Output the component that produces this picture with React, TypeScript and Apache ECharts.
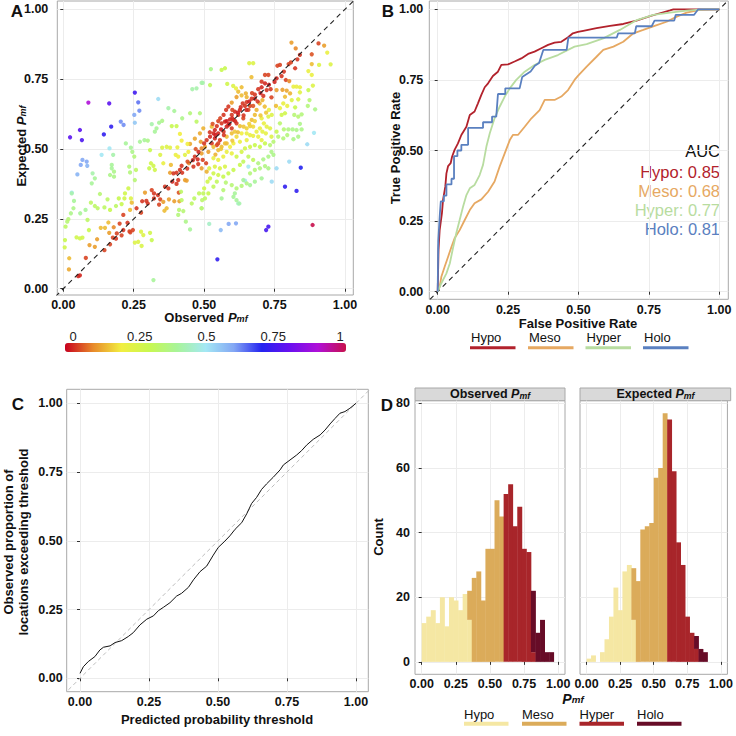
import React, { useEffect, useRef } from "react";
import * as echarts from "echarts";

const FONT = '"Liberation Sans", Arial, Helvetica, sans-serif';

// ---------- Panel A: observed vs expected P_mf, colour value ----------
const scatterPoints: number[][] = [
  [0.024,0.542,0.78],[0.059,0.568,0.78],[0.066,0.532,0.76],[0.089,0.666,0.9],[0.163,0.663,0.78],[0.254,0.702,0.74],[0.266,0.667,0.64],[0.27,0.637,0.62],[0.252,0.622,0.6],[0.254,0.594,0.55],[0.204,0.598,0.62],[0.214,0.586,0.62],[0.17,0.58,0.72],[0.144,0.552,0.72],[0.068,0.461,0.6],[0.083,0.455,0.6],[0.062,0.443,0.6],[0.085,0.44,0.58],[0.05,0.409,0.58],[0.03,0.344,0.5],[0.337,0.679,0.52],[0.164,0.502,0.5],[0.136,0.479,0.5],[0.547,0.105,0.72],[0.587,0.232,0.6],[0.613,0.234,0.6],[0.559,0.21,0.57],[0.72,0.21,0.75],[0.728,0.222,0.75],[0.787,0.365,0.72],[0.828,0.35,0.72],[0.843,0.433,0.7],[0.885,0.228,1.0],[0.802,0.455,0.52],[0.866,0.517,0.52],[0.89,0.558,0.5],[0.74,0.383,0.52],[0.757,0.431,0.52],[0.657,0.437,0.5],[0.645,0.387,0.5],[0.621,0.305,0.45],
  [0.005,0.148,0.28],[0.006,0.174,0.3],[0.008,0.222,0.33],[0.014,0.24,0.35],[0.018,0.249,0.35],[0.021,0.109,0.15],[0.02,0.069,0.13],[0.053,0.045,0.03],[0.059,0.048,0.03],[0.08,0.11,0.05],[0.093,0.156,0.12],[0.112,0.15,0.12],[0.12,0.177,0.12],[0.146,0.138,0.05],[0.166,0.159,0.05],[0.176,0.183,0.05],[0.19,0.198,0.05],[0.207,0.191,0.05],[0.187,0.179,0.04],[0.213,0.21,0.04],[0.228,0.236,0.04],[0.235,0.205,0.05],[0.247,0.21,0.05],[0.238,0.202,0.05],[0.163,0.2,0.12],[0.133,0.218,0.15],[0.148,0.218,0.15],[0.16,0.237,0.15],[0.179,0.22,0.1],[0.2,0.233,0.05],[0.213,0.264,0.05],[0.26,0.288,0.04],[0.28,0.313,0.04],[0.276,0.272,0.05],[0.29,0.344,0.12],[0.295,0.314,0.04],[0.3,0.305,0.04],[0.314,0.353,0.05],[0.322,0.341,0.04],[0.322,0.323,0.04],[0.336,0.335,0.04],[0.344,0.32,0.05],[0.34,0.301,0.05],[0.355,0.311,0.12],[0.359,0.279,0.15],[0.367,0.288,0.15],[0.375,0.32,0.12],[0.361,0.365,0.04],[0.373,0.359,0.04],[0.387,0.383,0.03],[0.402,0.375,0.04],[0.408,0.389,0.04],[0.41,0.344,0.06],[0.394,0.313,0.12],[0.412,0.313,0.12],[0.379,0.415,0.12],[0.391,0.413,0.04],[0.402,0.415,0.04],[0.414,0.425,0.04],[0.422,0.415,0.04],[0.432,0.389,0.12],[0.438,0.387,0.12],[0.446,0.449,0.1],[0.462,0.437,0.04],[0.477,0.463,0.03],[0.479,0.446,0.04],[0.467,0.473,0.04],[0.45,0.518,0.13],[0.467,0.537,0.13],[0.485,0.556,0.13],[0.488,0.526,0.12],[0.491,0.502,0.1],[0.497,0.574,0.14],[0.441,0.455,0.06],
  [0.027,0.27,0.38],[0.036,0.288,0.38],[0.03,0.341,0.42],[0.038,0.314,0.4],[0.06,0.27,0.4],[0.079,0.282,0.4],[0.086,0.246,0.33],[0.068,0.183,0.28],[0.047,0.184,0.28],[0.059,0.18,0.28],[0.091,0.21,0.3],[0.112,0.296,0.33],[0.098,0.308,0.33],[0.122,0.288,0.33],[0.13,0.339,0.35],[0.146,0.291,0.33],[0.157,0.32,0.33],[0.166,0.282,0.3],[0.187,0.296,0.33],[0.197,0.323,0.3],[0.207,0.303,0.3],[0.219,0.341,0.28],[0.231,0.359,0.28],[0.24,0.323,0.25],[0.217,0.323,0.28],[0.101,0.377,0.4],[0.104,0.413,0.42],[0.112,0.395,0.4],[0.166,0.407,0.38],[0.172,0.443,0.4],[0.172,0.431,0.4],[0.18,0.419,0.38],[0.18,0.401,0.38],[0.177,0.479,0.42],[0.222,0.52,0.4],[0.24,0.505,0.4],[0.245,0.49,0.38],[0.237,0.416,0.36],[0.234,0.437,0.36],[0.252,0.473,0.36],[0.258,0.425,0.33],[0.254,0.389,0.35],[0.272,0.526,0.4],[0.288,0.532,0.4],[0.3,0.53,0.38],[0.308,0.496,0.3],[0.314,0.589,0.42],[0.325,0.562,0.4],[0.331,0.574,0.4],[0.34,0.594,0.4],[0.351,0.601,0.38],[0.385,0.582,0.3],[0.402,0.582,0.3],[0.373,0.646,0.42],[0.394,0.636,0.4],[0.422,0.61,0.38],[0.45,0.628,0.36],[0.473,0.598,0.33],[0.485,0.628,0.36],[0.458,0.714,0.42],[0.473,0.717,0.42],[0.491,0.737,0.42],[0.311,0.449,0.28],[0.32,0.44,0.28],[0.305,0.431,0.3],[0.325,0.425,0.28],[0.344,0.479,0.25],[0.351,0.505,0.25],[0.367,0.508,0.25],[0.379,0.505,0.24],[0.355,0.449,0.22],[0.382,0.443,0.15],[0.399,0.479,0.22],[0.408,0.473,0.2],[0.405,0.506,0.22],[0.414,0.554,0.2],[0.42,0.53,0.2],[0.441,0.518,0.2],[0.444,0.49,0.2],[0.432,0.479,0.24],[0.418,0.347,0.33],[0.42,0.317,0.33],[0.411,0.282,0.35],[0.426,0.278,0.35],[0.408,0.264,0.36],[0.435,0.24,0.38],[0.45,0.212,0.4],[0.465,0.323,0.33],[0.456,0.305,0.33],[0.482,0.341,0.32],[0.491,0.288,0.36],[0.493,0.317,0.34],[0.237,0.282,0.15],[0.243,0.308,0.15],[0.254,0.165,0.25],[0.276,0.204,0.25],[0.284,0.192,0.25],[0.278,0.153,0.26],[0.308,0.2,0.28],[0.314,0.174,0.3],[0.32,0.031,0.4],[0.266,0.168,0.25],
  [0.81,0.881,0.12],[0.825,0.86,0.1],[0.906,0.878,0.05],[0.926,0.87,0.12],[0.937,0.845,0.22],[0.949,0.803,0.25],[0.908,0.801,0.25],[0.882,0.804,0.15],[0.882,0.839,0.06],[0.87,0.779,0.22],[0.882,0.765,0.22],[0.84,0.837,0.04],[0.831,0.821,0.04],[0.823,0.789,0.04],[0.8,0.804,0.05],[0.808,0.81,0.05],[0.769,0.801,0.05],[0.76,0.798,0.05],[0.783,0.777,0.04],[0.775,0.761,0.04],[0.79,0.747,0.05],[0.802,0.743,0.1],[0.757,0.753,0.03],[0.728,0.765,0.05],[0.716,0.765,0.05],[0.704,0.741,0.04],[0.668,0.757,0.15],[0.66,0.807,0.25],[0.674,0.807,0.25],[0.574,0.789,0.3],[0.562,0.783,0.3],[0.524,0.786,0.38],[0.495,0.737,0.42],[0.521,0.729,0.32],[0.582,0.733,0.28],[0.603,0.726,0.25],[0.613,0.717,0.22],[0.633,0.721,0.15],[0.621,0.705,0.15],[0.648,0.699,0.14],[0.736,0.714,0.04],[0.739,0.685,0.05],[0.757,0.711,0.12],[0.778,0.712,0.12],[0.793,0.709,0.13],[0.805,0.699,0.14],[0.817,0.723,0.22],[0.828,0.723,0.22],[0.84,0.721,0.22],[0.84,0.703,0.24],[0.87,0.711,0.3],[0.874,0.675,0.35],[0.894,0.642,0.38],[0.868,0.654,0.36],[0.834,0.678,0.25],[0.823,0.649,0.3],[0.811,0.675,0.25],[0.787,0.687,0.15],[0.781,0.663,0.22],[0.795,0.654,0.22],[0.769,0.646,0.22],[0.755,0.654,0.15],[0.82,0.622,0.35],[0.834,0.616,0.35],[0.846,0.624,0.36],[0.814,0.57,0.38],[0.828,0.568,0.38],[0.846,0.57,0.38],[0.799,0.57,0.37],[0.783,0.57,0.35],[0.769,0.592,0.34],[0.775,0.622,0.28],[0.787,0.628,0.28],[0.74,0.622,0.25],[0.728,0.616,0.25],[0.73,0.64,0.22],[0.715,0.652,0.15],[0.707,0.675,0.14],[0.697,0.663,0.14],[0.68,0.622,0.15],[0.704,0.61,0.22],[0.712,0.592,0.22],[0.722,0.58,0.23],[0.734,0.574,0.24],[0.698,0.574,0.22],[0.686,0.562,0.22],[0.707,0.562,0.23],[0.674,0.58,0.18],[0.663,0.582,0.17],[0.651,0.574,0.17],[0.669,0.604,0.15],[0.686,0.64,0.14],[0.657,0.64,0.05],[0.645,0.654,0.04],[0.637,0.663,0.04],[0.651,0.668,0.04],[0.663,0.654,0.05],[0.674,0.654,0.06],[0.669,0.68,0.04],[0.68,0.695,0.04],[0.692,0.714,0.04],[0.704,0.721,0.03],[0.716,0.735,0.03],[0.722,0.711,0.04],[0.627,0.64,0.03],[0.621,0.622,0.04],[0.609,0.634,0.03],[0.598,0.622,0.04],[0.592,0.606,0.03],[0.604,0.604,0.03],[0.615,0.592,0.04],[0.627,0.582,0.15],[0.639,0.61,0.05],[0.633,0.692,0.15],[0.651,0.686,0.14],[0.615,0.686,0.12],[0.598,0.666,0.12],[0.586,0.652,0.04],[0.578,0.64,0.04],[0.569,0.622,0.04],[0.557,0.61,0.05],[0.574,0.598,0.03],[0.586,0.586,0.03],[0.598,0.574,0.04],[0.58,0.58,0.03],[0.562,0.592,0.04],[0.545,0.582,0.04],[0.538,0.568,0.03],[0.527,0.58,0.15],[0.533,0.556,0.03],[0.55,0.556,0.03],[0.569,0.562,0.04],[0.521,0.544,0.03],[0.538,0.538,0.03],[0.556,0.532,0.04],[0.527,0.52,0.04],[0.545,0.514,0.05],[0.509,0.532,0.04],[0.503,0.508,0.12],[0.515,0.49,0.12],[0.491,0.484,0.12],[0.495,0.461,0.05],[0.507,0.449,0.05],[0.491,0.431,0.12],[0.509,0.419,0.14],[0.533,0.508,0.15],[0.55,0.496,0.15],[0.562,0.508,0.15],[0.574,0.52,0.15],[0.58,0.544,0.15],[0.598,0.556,0.15],[0.609,0.562,0.16],[0.615,0.544,0.18],[0.633,0.556,0.2],[0.651,0.556,0.22],[0.663,0.55,0.22],[0.674,0.547,0.22],[0.692,0.544,0.22],[0.704,0.532,0.23],[0.719,0.556,0.23],[0.739,0.544,0.25],[0.757,0.562,0.3],[0.651,0.532,0.22],[0.627,0.526,0.22],[0.604,0.52,0.2],[0.592,0.508,0.2],[0.58,0.49,0.22],[0.598,0.484,0.22],[0.568,0.473,0.22],[0.55,0.461,0.22],[0.533,0.467,0.22],[0.538,0.437,0.25],[0.518,0.431,0.25],[0.556,0.431,0.25],[0.574,0.437,0.26],[0.615,0.473,0.28],[0.633,0.49,0.27],[0.645,0.502,0.28],[0.663,0.508,0.28],[0.68,0.514,0.3],[0.698,0.508,0.3],[0.716,0.52,0.3],[0.734,0.514,0.35],[0.746,0.526,0.35],[0.763,0.544,0.35],[0.781,0.538,0.36],[0.795,0.55,0.36],[0.817,0.535,0.38],[0.834,0.544,0.38],[0.84,0.59,0.38],[0.739,0.49,0.38],[0.746,0.479,0.38],[0.728,0.473,0.38],[0.71,0.463,0.38],[0.692,0.449,0.37],[0.674,0.461,0.32],[0.657,0.473,0.32],[0.639,0.455,0.32],[0.627,0.443,0.3],[0.604,0.425,0.3],[0.586,0.413,0.3],[0.568,0.401,0.3],[0.55,0.407,0.28],[0.533,0.413,0.28],[0.521,0.395,0.28],[0.577,0.38,0.35],[0.598,0.371,0.35],[0.615,0.359,0.36],[0.633,0.368,0.36],[0.651,0.377,0.37],[0.663,0.413,0.36],[0.68,0.425,0.36],[0.698,0.431,0.37],[0.716,0.439,0.37],[0.728,0.431,0.38],[0.704,0.395,0.4],[0.68,0.383,0.4],[0.663,0.371,0.4],[0.639,0.389,0.4],[0.609,0.341,0.4],[0.615,0.317,0.4],[0.625,0.305,0.42],[0.604,0.329,0.4],[0.568,0.353,0.35],[0.512,0.383,0.28],[0.5,0.359,0.28],[0.515,0.341,0.3],[0.497,0.341,0.32],[0.491,0.288,0.35],[0.503,0.323,0.33],[0.533,0.365,0.32],[0.545,0.383,0.32],[0.562,0.323,0.4],[0.518,0.232,0.45],[0.886,0.727,0.25],
  [0.54,0.55,0.02],[0.56,0.57,0.02],[0.58,0.6,0.02],[0.6,0.61,0.03],[0.62,0.63,0.02],[0.64,0.62,0.04],[0.63,0.65,0.03],[0.65,0.64,0.03],[0.66,0.67,0.02],[0.68,0.68,0.03],[0.7,0.7,0.02],[0.69,0.67,0.04],[0.71,0.69,0.04],[0.73,0.73,0.02],[0.75,0.74,0.03],[0.55,0.52,0.05],[0.57,0.55,0.04],[0.59,0.59,0.02],[0.61,0.6,0.03],[0.52,0.56,0.04],[0.5,0.52,0.04],[0.48,0.49,0.03],[0.46,0.46,0.03],[0.44,0.43,0.04],[0.42,0.44,0.04],[0.47,0.5,0.06],[0.53,0.59,0.06],[0.55,0.6,0.05],[0.6,0.64,0.05],[0.67,0.7,0.05],[0.62,0.56,0.15],[0.64,0.58,0.16],[0.66,0.59,0.17],[0.68,0.6,0.17],[0.7,0.62,0.16],[0.72,0.63,0.16],[0.6,0.53,0.16],[0.58,0.52,0.15],[0.56,0.5,0.16],[0.54,0.48,0.14],
];
const colorbarTicks = [0, 0.25, 0.5, 0.75, 1];
const rainbow = ["#c8001e", "#e88a2a", "#f2ee40", "#c8f850", "#a8f49a", "#a4e8f4", "#84a8f4", "#2424f0", "#6a10f0", "#b010d8", "#c8104c"];

// ---------- Panel B: ROC curves ----------
const rocCategories = ["Hypo", "Meso", "Hyper", "Holo"];
const aucValues = ["0.85", "0.68", "0.77", "0.81"];
const rocHypo = [[0,0],[0.003,0.15],[0.007,0.218],[0.015,0.277],[0.019,0.325],[0.027,0.372],[0.031,0.419],[0.037,0.445],[0.046,0.455],[0.051,0.478],[0.06,0.502],[0.072,0.525],[0.084,0.555],[0.102,0.584],[0.114,0.626],[0.131,0.638],[0.143,0.667],[0.155,0.697],[0.167,0.724],[0.179,0.738],[0.196,0.764],[0.214,0.779],[0.226,0.803],[0.25,0.805],[0.273,0.815],[0.297,0.826],[0.321,0.842],[0.344,0.85],[0.368,0.862],[0.392,0.874],[0.415,0.882],[0.439,0.885],[0.463,0.901],[0.48,0.915],[0.498,0.92],[0.517,0.924],[0.564,0.933],[0.612,0.941],[0.659,0.948],[0.706,0.96],[0.754,0.976],[0.789,0.986],[0.825,0.996],[0.837,1],[1,1]];
const rocMeso = [[0,0],[0.007,0.018],[0.013,0.053],[0.025,0.089],[0.037,0.124],[0.049,0.159],[0.06,0.189],[0.078,0.218],[0.096,0.254],[0.114,0.289],[0.131,0.313],[0.155,0.327],[0.179,0.354],[0.202,0.39],[0.22,0.443],[0.238,0.49],[0.256,0.537],[0.267,0.555],[0.285,0.555],[0.309,0.584],[0.333,0.614],[0.362,0.643],[0.38,0.679],[0.415,0.679],[0.439,0.691],[0.463,0.714],[0.486,0.75],[0.498,0.764],[0.529,0.797],[0.564,0.832],[0.588,0.856],[0.624,0.868],[0.659,0.885],[0.695,0.915],[0.73,0.927],[0.778,0.944],[0.813,0.956],[0.849,0.974],[0.884,0.988],[0.931,0.998],[1,1]];
const rocHyper = [[0,0],[0.013,0.03],[0.031,0.065],[0.043,0.1],[0.054,0.153],[0.066,0.207],[0.078,0.254],[0.09,0.301],[0.102,0.342],[0.114,0.366],[0.131,0.378],[0.149,0.413],[0.161,0.449],[0.173,0.514],[0.185,0.561],[0.202,0.614],[0.22,0.655],[0.238,0.691],[0.256,0.72],[0.279,0.75],[0.309,0.779],[0.344,0.803],[0.38,0.821],[0.427,0.838],[0.486,0.868],[0.529,0.877],[0.588,0.897],[0.647,0.927],[0.707,0.962],[0.766,0.98],[0.825,0.988],[0.884,0.995],[0.943,1],[1,1]];
const rocHolo = [[0,0],[0.002,0.18],[0.008,0.28],[0.011,0.32],[0.022,0.32],[0.022,0.34],[0.031,0.34],[0.031,0.38],[0.049,0.38],[0.049,0.4],[0.058,0.4],[0.058,0.48],[0.07,0.48],[0.07,0.5],[0.084,0.5],[0.084,0.52],[0.108,0.52],[0.108,0.58],[0.161,0.58],[0.161,0.6],[0.193,0.6],[0.193,0.62],[0.208,0.62],[0.214,0.7],[0.24,0.7],[0.24,0.72],[0.291,0.72],[0.3,0.76],[0.33,0.78],[0.345,0.8],[0.36,0.81],[0.375,0.856],[0.458,0.856],[0.464,0.9],[0.636,0.9],[0.641,0.915],[0.7,0.915],[0.705,0.94],[0.76,0.94],[0.77,0.96],[0.84,0.96],[0.845,0.98],[0.91,0.98],[0.925,1],[1,1]];

// ---------- Panel C: calibration curve ----------
const calibration = [[0,0.018],[0.012,0.042],[0.03,0.061],[0.054,0.079],[0.072,0.103],[0.085,0.113],[0.109,0.118],[0.127,0.13],[0.151,0.137],[0.175,0.152],[0.193,0.166],[0.217,0.194],[0.242,0.215],[0.266,0.227],[0.284,0.246],[0.302,0.258],[0.326,0.275],[0.35,0.299],[0.368,0.309],[0.393,0.331],[0.411,0.358],[0.435,0.388],[0.459,0.408],[0.483,0.448],[0.501,0.476],[0.525,0.499],[0.543,0.518],[0.562,0.542],[0.586,0.566],[0.604,0.598],[0.622,0.636],[0.64,0.658],[0.658,0.687],[0.676,0.707],[0.7,0.731],[0.725,0.758],[0.737,0.776],[0.761,0.794],[0.785,0.812],[0.803,0.828],[0.821,0.848],[0.845,0.869],[0.87,0.885],[0.888,0.903],[0.906,0.925],[0.924,0.945],[0.942,0.964],[0.96,0.97],[0.978,0.982],[1,1]];

// ---------- Panel D: histograms (counts per bin, stacked by class) ----------
const binWidth = 0.03335;
const obsHypo  = [12,14,16,12,20,11,20,19,16,21,13,0,0,0,0,0,0,0,0,0,0,0,0,0,0,0,0,0,0];
const obsMeso  = [0,0,0,0,0,0,0,0,0,0,9,26,28,19,35,35,50,45,0,0,0,0,0,0,0,0,0,0,0];
const obsHyper = [0,0,0,0,0,0,0,0,0,0,0,0,0,0,0,0,0,0,52,55,42,48,35,34,3,0,0,0,0];
const obsHolo  = [0,0,0,0,0,0,0,0,0,0,0,0,0,0,0,0,0,0,0,0,0,0,0,0,19,9,13,3,3];
const expHypo  = [1,2,0,3,7,14,23,16,28,30,13,0,0,0,0,0,0,0,0,0,0,0,0,0,0,0,0];
const expMeso  = [0,0,0,0,0,0,0,0,0,0,16,25,41,42,43,57,60,77,0,0,0,0,0,0,0,0,0];
const expHyper = [0,0,0,0,0,0,0,0,0,0,0,0,0,0,0,0,0,0,75,59,37,30,14,9,4,0,0];
const expHolo  = [0,0,0,0,0,0,0,0,0,0,0,0,0,0,0,0,0,0,0,0,0,0,0,0,4,4,3];
const probTicks = [0, 0.25, 0.5, 0.75, 1];
const countTicks = [0, 20, 40, 60, 80];

const rocColors = ["#b2222c", "#e6a862", "#b8dca0", "#5a80c0"];
const histColors = ["#f5e7a3", "#dbab5a", "#a8252a", "#670c27"];

const fmt2 = (v: number) => v.toFixed(2);

function vAxis(gridIndex: number, min: number, max: number, ticks: number[], margin: number, showLabels = true, fmt: any = fmt2, showTicks = true) {
  return {
    type: "value", gridIndex, min, max,
    axisLine: { show: false },
    axisTick: { show: showTicks, length: 3, customValues: ticks, lineStyle: { color: "#333", width: 1 } },
    axisLabel: { show: showLabels, customValues: ticks, margin, formatter: fmt, color: "#111", fontWeight: "bold", fontSize: 12.5, fontFamily: FONT },
    splitLine: { show: true, lineStyle: { color: "#ececec", width: 1 } },
  };
}

const pmfRich = (size: number) => ({
  b: { fontWeight: "bold", fontSize: size, fontFamily: FONT, lineHeight: 12, verticalAlign: "middle", fill: "#111" },
  i: { fontWeight: "bold", fontStyle: "italic", fontSize: size, fontFamily: FONT, lineHeight: 12, verticalAlign: "middle", fill: "#111" },
  s: { fontWeight: "bold", fontStyle: "italic", fontSize: size * 0.7, fontFamily: FONT, lineHeight: 4, verticalAlign: "bottom", fill: "#111" },
});

function txt(x: number, y: number, text: string, extra: any = {}, rotation = 0) {
  return {
    type: "text", x, y, rotation, silent: true,
    style: { text, fill: "#111", fontFamily: FONT, fontSize: 13, fontWeight: "bold", align: "center", verticalAlign: "middle", ...extra },
  };
}

function histSeries(xAxisIndex: number, counts: number[][]) {
  const n = counts[0].length;
  const base = new Array(n).fill(0);
  return counts.map((arr, k) => {
    const data: number[][] = [];
    arr.forEach((v, i) => {
      if (v > 0) {
        const x0 = i * binWidth;
        data.push([x0, x0 + binWidth, base[i], base[i] + v]);
        base[i] += v;
      }
    });
    const color = histColors[k];
    return {
      type: "custom", xAxisIndex, yAxisIndex: xAxisIndex, data, silent: true,
      renderItem: (params: any, api: any) => {
        const a = api.coord([api.value(0), api.value(3)]);
        const b = api.coord([api.value(1), api.value(2)]);
        return { type: "rect", shape: { x: a[0], y: a[1], width: b[0] - a[0] + 0.4, height: b[1] - a[1] }, style: { fill: color } };
      },
    };
  });
}

export default function App() {
  const ref = useRef<HTMLDivElement>(null);
  useEffect(() => {
    if (!ref.current) return;
    const chart = echarts.init(ref.current, null, { renderer: "svg" });
    const gridStyle = { show: true, borderColor: "#a8a8a8", borderWidth: 1, backgroundColor: "transparent" };
    const rocSeries = [rocHypo, rocMeso, rocHyper, rocHolo].map((d, i) => ({
      type: "line", xAxisIndex: 2, yAxisIndex: 2, data: d, showSymbol: false, silent: true,
      lineStyle: { color: rocColors[i], width: 1.8 }, z: 3,
    }));
    const graphic: any[] = [
      txt(17, 11, "A", { fontSize: 17 }),
      txt(388, 11, "B", { fontSize: 17 }),
      txt(18, 404, "C", { fontSize: 17 }),
      txt(387, 405, "D", { fontSize: 17 }),
      txt(206, 317.5, "{b|Observed }{i|P}{s|mf}", { rich: pmfRich(13) }),
      txt(21, 146, "{b|Expected }{i|P}{s|mf}", { rich: pmfRich(13) }, Math.PI / 2),
      txt(578, 323.5, "False Positive Rate"),
      txt(395, 148, "True Positive Rate", {}, Math.PI / 2),
      txt(217, 719, "Predicted probability threshold"),
      txt(16, 542, "Observed proportion of\nlocations exceeding threshold", { lineHeight: 15 }, Math.PI / 2),
      txt(378, 537, "Count", {}, Math.PI / 2),
      txt(573, 698.5, "{i|P}{s|mf}", { rich: pmfRich(14) }),
      { type: "rect", silent: true, shape: { x: 415, y: 388, width: 150, height: 12.7 }, style: { fill: "#d9d9d9", stroke: "#a8a8a8", lineWidth: 1 } },
      { type: "rect", silent: true, shape: { x: 580, y: 388, width: 150.7, height: 12.7 }, style: { fill: "#d9d9d9", stroke: "#a8a8a8", lineWidth: 1 } },
      txt(490, 394, "{b|Observed }{i|P}{s|mf}", { rich: pmfRich(12.5) }),
      txt(655.5, 394, "{b|Expected }{i|P}{s|mf}", { rich: pmfRich(12.5) }),
      txt(720, 151, "AUC", { fontSize: 16.5, fontWeight: "normal", align: "right" }),
    ];
    rocCategories.forEach((c, i) => {
      graphic.push(txt(720, 171.7 + i * 19, `${c}: ${aucValues[i]}`, { fontSize: 16.5, fontWeight: "normal", align: "right", fill: rocColors[i] }));
    });
    const bLegendX = [470, 528, 585.5, 643];
    rocCategories.forEach((c, i) => {
      graphic.push(txt(bLegendX[i] + 1, 337.7, c, { fontSize: 13, fontWeight: "normal", align: "left" }));
      graphic.push({ type: "rect", silent: true, shape: { x: bLegendX[i], y: 346.3, width: 45.5, height: 3 }, style: { fill: rocColors[i] } });
    });
    const dLegendX = [464, 522, 579.5, 637];
    rocCategories.forEach((c, i) => {
      graphic.push(txt(dLegendX[i], 714.3, c, { fontSize: 13, fontWeight: "normal", align: "left" }));
      graphic.push({ type: "rect", silent: true, shape: { x: dLegendX[i], y: 721.7, width: 44.5, height: 4 }, style: { fill: histColors[i] } });
    });

    const option: any = {
      animation: false,
      textStyle: { fontFamily: FONT },
      grid: [
        { left: 57.3, top: 1, width: 296, height: 294, ...gridStyle },
        { left: 73, top: 343, width: 267, height: 9, show: false },
        { left: 429.3, top: 1, width: 299, height: 298.3, ...gridStyle },
        { left: 66.7, top: 389.3, width: 301.6, height: 302.4, ...gridStyle },
        { left: 415, top: 400.7, width: 150, height: 273.6, ...gridStyle },
        { left: 580, top: 400.7, width: 150.7, height: 273.6, ...gridStyle },
      ],
      xAxis: [
        vAxis(0, -0.0213, 1.0295, probTicks, 3),
        {
          type: "value", gridIndex: 1, min: 0, max: 1, position: "top",
          axisLine: { show: false }, axisTick: { show: false }, splitLine: { show: false },
          axisLabel: { customValues: colorbarTicks, margin: 0, formatter: (v: number) => String(v), color: "#222", fontSize: 13, fontFamily: FONT },
        },
        vAxis(2, -0.0298, 1.032, probTicks, 4),
        vAxis(3, -0.0482, 1.0446, probTicks, 4),
        vAxis(4, -0.049, 1.05, probTicks, 3),
        vAxis(5, -0.049, 1.049, probTicks, 3),
      ],
      yAxis: [
        vAxis(0, -0.0225, 1.0297, probTicks, 9),
        { type: "value", gridIndex: 1, show: false, min: 0, max: 1 },
        vAxis(2, -0.0269, 1.0294, probTicks, 6),
        vAxis(3, -0.0487, 1.051, probTicks, 4),
        vAxis(4, -3.85, 80.85, countTicks, 5, true, (v: number) => String(v)),
        vAxis(5, -3.85, 80.85, countTicks, 5, false, (v: number) => String(v), false),
      ],
      visualMap: [{
        type: "continuous", seriesIndex: 0, dimension: 2, min: 0, max: 1,
        inRange: { color: rainbow }, orient: "horizontal", left: 65, top: 343,
        itemWidth: 9, itemHeight: 281, calculable: false, hoverLink: false, padding: 0,
      }],
      series: [
        {
          type: "scatter", xAxisIndex: 0, yAxisIndex: 0, data: scatterPoints, symbolSize: 4.3, silent: true,
          itemStyle: { opacity: 0.9 }, z: 2,
        },
        {
          type: "line", xAxisIndex: 0, yAxisIndex: 0, data: [[-0.05, -0.05], [1.05, 1.05]], showSymbol: false, silent: true,
          lineStyle: { color: "#222", width: 1.1, type: [5, 4] }, z: 4,
        },
        {
          type: "line", xAxisIndex: 2, yAxisIndex: 2, data: [[-0.05, -0.05], [1.05, 1.05]], showSymbol: false, silent: true,
          lineStyle: { color: "#222", width: 1.1, type: [5, 4] }, z: 2,
        },
        ...rocSeries,
        {
          type: "line", xAxisIndex: 3, yAxisIndex: 3, data: [[-0.06, -0.06], [1.06, 1.06]], showSymbol: false, silent: true,
          lineStyle: { color: "#bdbdbd", width: 1, type: [4, 3] }, z: 2,
        },
        {
          type: "line", xAxisIndex: 3, yAxisIndex: 3, data: calibration, showSymbol: false, silent: true,
          lineStyle: { color: "#111", width: 1 }, z: 3,
        },
        ...histSeries(4, [obsHypo, obsMeso, obsHyper, obsHolo]),
        ...histSeries(5, [expHypo, expMeso, expHyper, expHolo]),
      ],
      graphic,
    };
    chart.setOption(option);
    return () => chart.dispose();
  }, []);
  return <div ref={ref} style={{ position: "fixed", left: 0, top: 0, width: 736, height: 736, background: "#fff" }} />;
}
